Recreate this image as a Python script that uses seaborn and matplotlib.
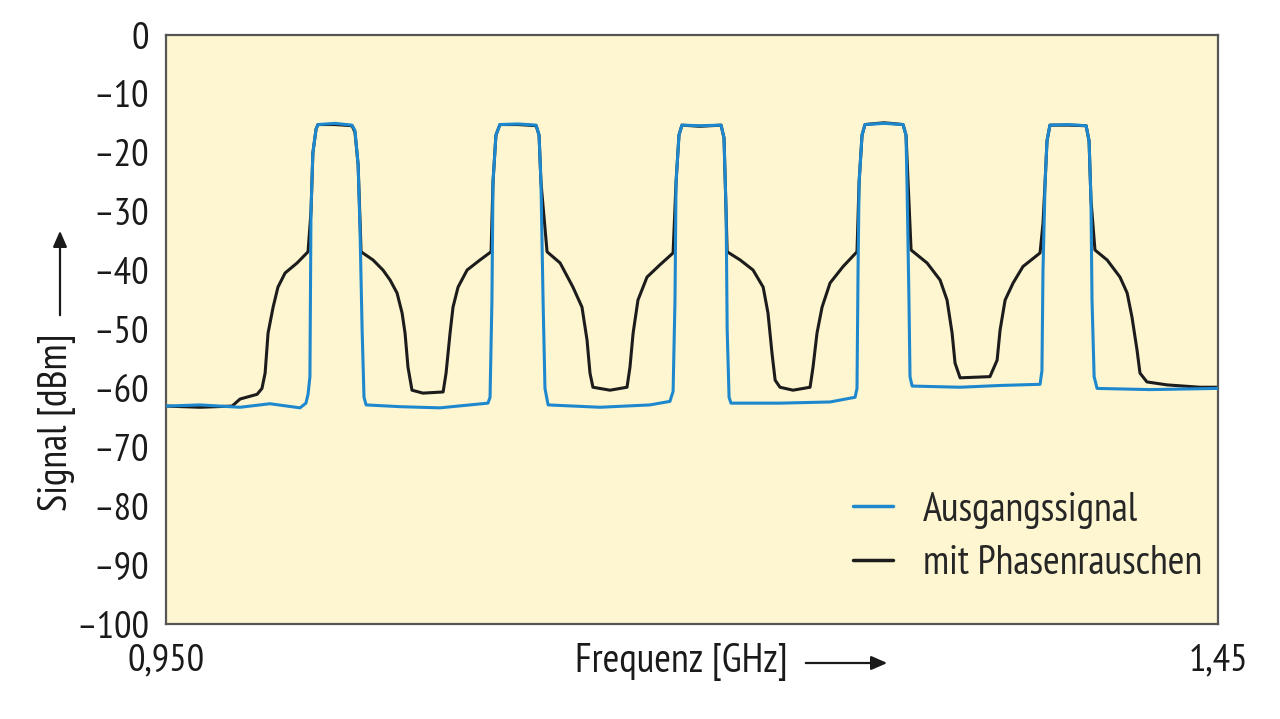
import numpy as np
import pandas as pd
import matplotlib
matplotlib.use("Agg")
import matplotlib.pyplot as plt
import seaborn as sns

# Ausgangssignal (blue), frequency in GHz and level in dBm
freq_out = [0.9500, 0.9662, 0.9852, 0.9994, 1.0137, 1.0165, 1.0175, 1.0184, 1.0189, 1.0198,
            1.0213, 1.0222, 1.0303, 1.0384, 1.0398, 1.0413, 1.0422, 1.0432, 1.0441, 1.0451,
            1.0612, 1.0802, 1.1030, 1.1040, 1.1049, 1.1054, 1.1068, 1.1087, 1.1173, 1.1259,
            1.1273, 1.1282, 1.1292, 1.1301, 1.1316, 1.1563, 1.1800, 1.1895, 1.1910, 1.1919,
            1.1924, 1.1938, 1.1952, 1.2038, 1.2138, 1.2152, 1.2162, 1.2167, 1.2176, 1.2185,
            1.2418, 1.2656, 1.2775, 1.2784, 1.2789, 1.2794, 1.2808, 1.2822, 1.2913, 1.3003,
            1.3017, 1.3022, 1.3031, 1.3036, 1.3046, 1.3274, 1.3464, 1.3654, 1.3663, 1.3668,
            1.3678, 1.3687, 1.3701, 1.3787, 1.3873, 1.3887, 1.3896, 1.3901, 1.3911, 1.3925,
            1.4177, 1.4500]
level_out = [-63.0, -62.8, -63.2, -62.6, -63.3, -62.5, -61.0, -58.0, -30.0, -20.0,
             -16.0, -15.2, -15.0, -15.3, -16.2, -22.0, -33.0, -50.0, -61.5, -62.8,
             -63.1, -63.3, -62.5, -61.5, -45.0, -25.0, -17.0, -15.2, -15.1, -15.3,
             -17.0, -25.0, -45.0, -60.0, -62.8, -63.2, -62.8, -62.2, -60.5, -45.0,
             -25.0, -17.0, -15.3, -15.4, -15.3, -17.5, -30.0, -50.0, -61.5, -62.5,
             -62.5, -62.3, -61.5, -60.0, -40.0, -25.0, -17.0, -15.2, -15.0, -15.2,
             -17.0, -26.0, -45.0, -58.0, -59.6, -59.8, -59.5, -59.3, -57.0, -40.0,
             -25.0, -18.0, -15.3, -15.2, -15.4, -18.0, -28.0, -45.0, -58.0, -60.0,
             -60.2, -60.0]

# mit Phasenrauschen (black)
freq_pn = [0.9500, 0.9662, 0.9814, 0.9852, 0.9933, 0.9956, 0.9971, 0.9985, 1.0009, 1.0032,
           1.0066, 1.0123, 1.0175, 1.0189, 1.0198, 1.0213, 1.0222, 1.0303, 1.0384, 1.0398,
           1.0413, 1.0427, 1.0484, 1.0531, 1.0565, 1.0598, 1.0622, 1.0636, 1.0650, 1.0669,
           1.0721, 1.0817, 1.0831, 1.0850, 1.0864, 1.0888, 1.0931, 1.0992, 1.1045, 1.1054,
           1.1068, 1.1087, 1.1173, 1.1259, 1.1273, 1.1282, 1.1311, 1.1373, 1.1434, 1.1477,
           1.1501, 1.1515, 1.1529, 1.1610, 1.1691, 1.1705, 1.1720, 1.1743, 1.1786, 1.1848,
           1.1910, 1.1924, 1.1938, 1.1952, 1.2038, 1.2138, 1.2152, 1.2167, 1.2229, 1.2290,
           1.2338, 1.2361, 1.2380, 1.2395, 1.2418, 1.2480, 1.2561, 1.2575, 1.2594, 1.2618,
           1.2656, 1.2718, 1.2784, 1.2794, 1.2808, 1.2822, 1.2913, 1.3003, 1.3017, 1.3041,
           1.3117, 1.3179, 1.3212, 1.3236, 1.3250, 1.3274, 1.3416, 1.3450, 1.3464, 1.3488,
           1.3526, 1.3573, 1.3654, 1.3668, 1.3678, 1.3687, 1.3701, 1.3787, 1.3873, 1.3887,
           1.3896, 1.3915, 1.3973, 1.4034, 1.4068, 1.4091, 1.4115, 1.4129, 1.4162, 1.4258,
           1.4414, 1.4500]
level_pn = [-63.0, -63.2, -63.0, -61.8, -61.0, -60.0, -57.4, -50.6, -46.2, -42.8,
            -40.4, -38.7, -36.8, -30.0, -20.0, -16.0, -15.2, -15.2, -15.4, -16.5,
            -22.0, -36.8, -38.2, -39.9, -41.6, -43.8, -47.2, -50.6, -56.4, -60.3,
            -60.8, -60.6, -57.4, -50.6, -46.2, -42.8, -39.9, -38.2, -36.8, -25.0,
            -17.0, -15.2, -15.2, -15.4, -17.0, -25.0, -36.8, -38.7, -42.8, -46.2,
            -51.8, -57.4, -59.8, -60.3, -59.8, -56.4, -50.6, -45.0, -41.1, -39.0,
            -37.0, -25.0, -17.0, -15.3, -15.5, -15.3, -17.5, -36.8, -38.2, -39.9,
            -42.8, -47.2, -54.0, -58.6, -59.8, -60.3, -59.8, -56.4, -50.6, -46.2,
            -42.1, -39.3, -36.8, -25.0, -17.0, -15.2, -14.9, -15.2, -17.0, -36.5,
            -38.7, -41.6, -45.0, -50.6, -55.7, -58.2, -58.0, -55.2, -50.1, -45.0,
            -42.1, -39.3, -37.0, -32.0, -25.0, -18.0, -15.3, -15.3, -15.4, -18.0,
            -28.0, -36.5, -38.2, -41.1, -43.8, -47.9, -53.5, -57.4, -58.9, -59.4,
            -59.8, -59.8]

series_names = ["Ausgangssignal", "mit Phasenrauschen"]
x_ticks = [0.95, 1.00, 1.05, 1.10, 1.15, 1.20, 1.25, 1.30, 1.35, 1.40, 1.45]
x_ticklabels = ["0,950", "", "", "", "", "", "", "", "", "", "1,45"]
y_ticks = [0, -10, -20, -30, -40, -50, -60, -70, -80, -90, -100]
y_ticklabels = ["0", "\u201310", "\u201320", "\u201330", "\u201340", "\u201350",
                "\u201360", "\u201370", "\u201380", "\u201390", "\u2013100"]

df = pd.concat([
    pd.DataFrame({"freq": freq_out, "level": level_out, "series": series_names[0]}),
    pd.DataFrame({"freq": freq_pn, "level": level_pn, "series": series_names[1]}),
])

sns.set_theme(style="white")
plt.rcParams['font.family'] = ['PT Sans Narrow', 'DejaVu Sans']

fig = plt.figure(figsize=(12.8, 7.19), dpi=100)
ax = fig.add_axes([0.1297, 0.1321, 0.8219, 0.8192])
ax.set_facecolor('#FDF6D0')

palette = {series_names[0]: '#1E88CF', series_names[1]: '#1C1C1C'}
sns.lineplot(data=df, x='freq', y='level', hue='series', palette=palette,
             hue_order=series_names, estimator=None, sort=False,
             linewidth=2.2, ax=ax)
# blue trace drawn over the black one, as in the original
ax.lines[0].set_zorder(3)
ax.lines[1].set_zorder(2)

ax.set_xlim(0.95, 1.45)
ax.set_ylim(-100, 0)
ax.set_xticks(x_ticks)
ax.set_xticklabels(x_ticklabels)
ax.set_yticks(y_ticks)
ax.set_yticklabels(y_ticklabels)
ax.tick_params(axis='x', direction='in', length=11, width=1.5, color='#222222',
               labelsize=28, pad=14, labelcolor='#1a1a1a')
ax.tick_params(axis='y', direction='in', length=13, width=1.8, color='#222222',
               labelsize=28, pad=12, labelcolor='#1a1a1a')
ax.set_xlabel('')
ax.set_ylabel('')

for side in ['left', 'bottom', 'top', 'right']:
    ax.spines[side].set_visible(True)
    ax.spines[side].set_color('#555555')
    ax.spines[side].set_linewidth(1.6)

# axis titles with arrows
fig.text(681 / 1280, 1 - 662 / 719, 'Frequenz [GHz]', ha='center', va='center',
         fontsize=29, color='#1a1a1a')
ax.annotate('', xy=(890 / 1280, 1 - 663 / 719), xytext=(803 / 1280, 1 - 663 / 719),
            xycoords='figure fraction',
            arrowprops=dict(arrowstyle='-|>,head_length=0.8,head_width=0.35',
                            color='#1a1a1a', lw=1.6))
fig.text(57 / 1280, 1 - 422 / 719, 'Signal [dBm]', ha='center', va='center',
         rotation=90, fontsize=29, color='#1a1a1a')
ax.annotate('', xy=(60 / 1280, 1 - 228 / 719), xytext=(60 / 1280, 1 - 318 / 719),
            xycoords='figure fraction',
            arrowprops=dict(arrowstyle='-|>,head_length=0.8,head_width=0.35',
                            color='#1a1a1a', lw=1.6))

leg = ax.legend(loc='lower right', bbox_to_anchor=(0.985, 0.072), frameon=False,
                fontsize=29, handlelength=1.0, handletextpad=0.75,
                labelspacing=0.4, borderaxespad=0, borderpad=0)
for line in leg.get_lines():
    line.set_linewidth(2.5)

fig.savefig('out.png', dpi=100)
